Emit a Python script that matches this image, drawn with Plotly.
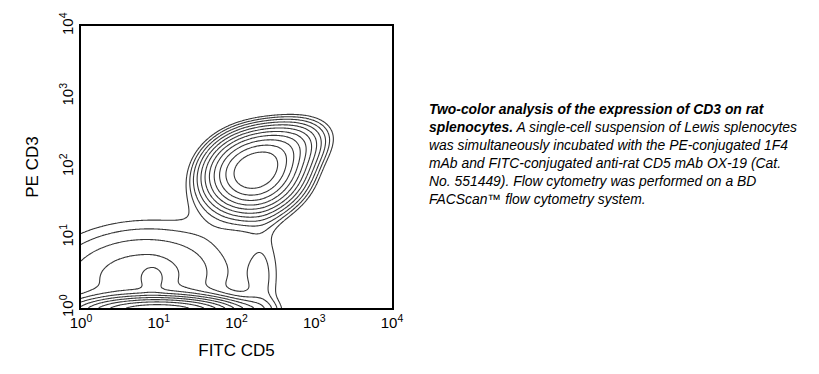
import numpy as np
import plotly.graph_objects as go

# ---- axis ticks (log decades) ----
tick_vals = [1, 10, 100, 1000, 10000]
tick_text = ["10<sup>0</sup>", "10<sup>1</sup>", "10<sup>2</sup>", "10<sup>3</sup>", "10<sup>4</sup>"]

# ---- cell populations (log10 fluorescence units) ----
pop_names = ["CD3+ CD5+ T cells", "T-cell upper shoulder", "CD3- CD5- cells (on axis)",
             "CD3- dim spread", "dim knob", "CD5+ CD3- tail"]
pop_u   = [2.22, 2.65, 1.00, 0.75, 0.92, 2.35]   # FITC CD5 centre (log10)
pop_v   = [1.92, 2.30, -0.05, 0.45, 0.42, 0.35]  # PE CD3 centre (log10)
pop_su  = [0.36, 0.35, 0.60, 1.00, 0.10, 0.18]   # spread along FITC
pop_sv  = [0.32, 0.25, 0.12, 0.60, 0.12, 0.70]   # spread along PE
pop_rho = [0.10, 0.30, 0.00, 0.10, 0.00, 0.00]   # correlation
pop_amp = [1.00, 0.25, 0.96, 0.16, 0.06, 0.05]   # relative peak height

# contour levels (natural log of relative density)
level_start = -2.71
level_step = 0.25
level_end = -0.15

# ---- density grid ----
u = np.linspace(0, 4, 241)
v = np.linspace(0, 4, 241)
U, V = np.meshgrid(u, v)
dens = np.zeros_like(U)
for cu, cv, su, sv, r, a in zip(pop_u, pop_v, pop_su, pop_sv, pop_rho, pop_amp):
    du = (U - cu) / su
    dv = (V - cv) / sv
    q = (du ** 2 - 2 * r * du * dv + dv ** 2) / (1 - r ** 2)
    dens += a * np.exp(-q / 2)
z = np.log(dens)

line_col = "#383838"
fig = go.Figure()
fig.add_trace(go.Contour(
    x=10 ** u, y=10 ** v, z=z,
    contours=dict(start=level_start, end=level_end, size=level_step, coloring="lines"),
    colorscale=[[0, line_col], [1, line_col]],
    line=dict(width=1.1, smoothing=1.0),
    showscale=False, hoverinfo="skip",
))

font = "Arial, 'Liberation Sans', sans-serif"
axis_common = dict(
    type="log", range=[0, 4], tickvals=tick_vals, ticktext=tick_text,
    showgrid=False, zeroline=False, showline=True, mirror=True,
    linecolor="black", linewidth=2, ticks="",
    tickfont=dict(family=font, size=15, color="black"),
)
fig.update_layout(
    width=819, height=374,
    margin=dict(l=81, r=427, t=17, b=66),
    paper_bgcolor="white", plot_bgcolor="white",
    showlegend=False,
    xaxis=dict(**axis_common, title=dict(text="FITC CD5", font=dict(family=font, size=17, color="black"), standoff=14)),
    yaxis=dict(**axis_common, tickangle=-90,
               title=dict(text="PE CD3", font=dict(family=font, size=17, color="black"), standoff=14)),
)

caption = ("<b><i>Two-color analysis of the expression of CD3 on rat<br>splenocytes.</i></b>"
           "<i> A single-cell suspension of Lewis splenocytes<br>"
           "was simultaneously incubated with the PE-conjugated 1F4<br>"
           "mAb and FITC-conjugated anti-rat CD5 mAb OX-19 (Cat.<br>"
           "No. 551449). Flow cytometry was performed on a BD<br>"
           "FACScan™ flow cytometry system.</i>")
fig.add_annotation(
    text=caption, xref="paper", yref="paper",
    x=(427 - 81) / 311, y=(308 - 149) / 291,
    xanchor="left", yanchor="middle", align="left", showarrow=False,
    font=dict(family=font, size=13.9, color="black"),
)

fig.write_html("out.html")
